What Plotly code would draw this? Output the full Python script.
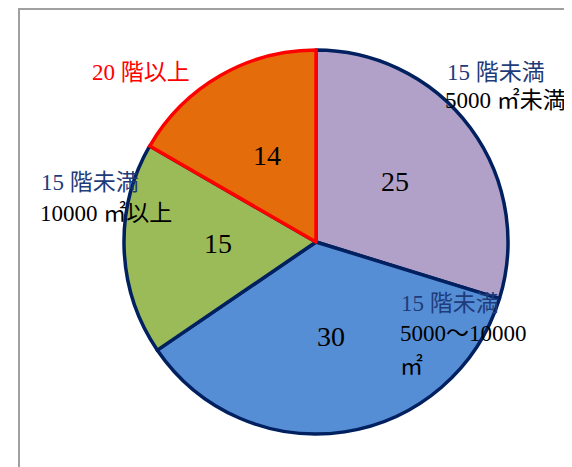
import math
import plotly.graph_objects as go

categories = ["15階未満 5000㎡未満", "15階未満 5000～10000㎡", "15階未満 10000㎡以上", "20階以上"]
values = [25, 30, 15, 14]
slice_colors = ["#B1A0C7", "#558ED5", "#9BBB59", "#E46C0A"]
edge_colors = ["#002060", "#002060", "#002060", "#FF0000"]

W, H = 572, 467
OFF = 8  # page body margin
FONT = "Liberation Serif, Noto Sans CJK JP, serif"
NAVY_TXT = "#1F3C7A"

cx, cy, R = 316 - OFF, 242 - OFF, 192

fig = go.Figure(go.Pie(
    labels=categories,
    values=values,
    sort=False,
    direction="clockwise",
    rotation=0,
    marker=dict(colors=slice_colors, line=dict(color=edge_colors, width=3.5)),
    textinfo="none",
    showlegend=False,
    hoverinfo="label+value",
    domain=dict(x=[(cx - R) / W, (cx + R) / W], y=[1 - (cy + R) / H, 1 - (cy - R) / H]),
))

# value labels placed along each slice's bisector (derived from the data)
total = sum(values)
cum = 0
for v in values:
    mid = (cum + v / 2) / total * 2 * math.pi
    cum += v
    lx = cx + 0.51 * R * math.sin(mid)
    ly = cy - 0.51 * R * math.cos(mid) - 2
    fig.add_annotation(x=lx / W, y=1 - ly / H, xref="paper", yref="paper", text=str(v),
                       showarrow=False, xanchor="center", yanchor="middle",
                       font=dict(family=FONT, size=28, color="black"))

def px_ann(x, y, text, color):
    fig.add_annotation(x=(x - OFF) / W, y=1 - (y - OFF) / H, xref="paper", yref="paper", text=text,
                       showarrow=False, xanchor="left", yanchor="middle",
                       font=dict(family=FONT, size=23, color=color))

px_ann(90, 72, "20 階以上", "#FF0000")
px_ann(445, 72, "15 階未満", NAVY_TXT)
px_ann(443, 101, "5000 ㎡未満", "black")
px_ann(399, 303, "15 階未満", NAVY_TXT)
px_ann(398, 333, "5000～10000", "black")
px_ann(398, 366, "㎡", "black")
px_ann(39, 183, "15 階未満", NAVY_TXT)
px_ann(38, 213, "10000 ㎡以上", "black")

fig.add_shape(type="rect", xref="paper", yref="paper",
              x0=(19 - OFF) / W, x1=1.05, y0=-0.05, y1=1 - 1 / H,
              line=dict(color="#A0A0A0", width=2), layer="below")

fig.update_layout(width=W, height=H, margin=dict(l=0, r=0, t=0, b=0),
                  paper_bgcolor="white", plot_bgcolor="white")

fig.write_html("out.html")
